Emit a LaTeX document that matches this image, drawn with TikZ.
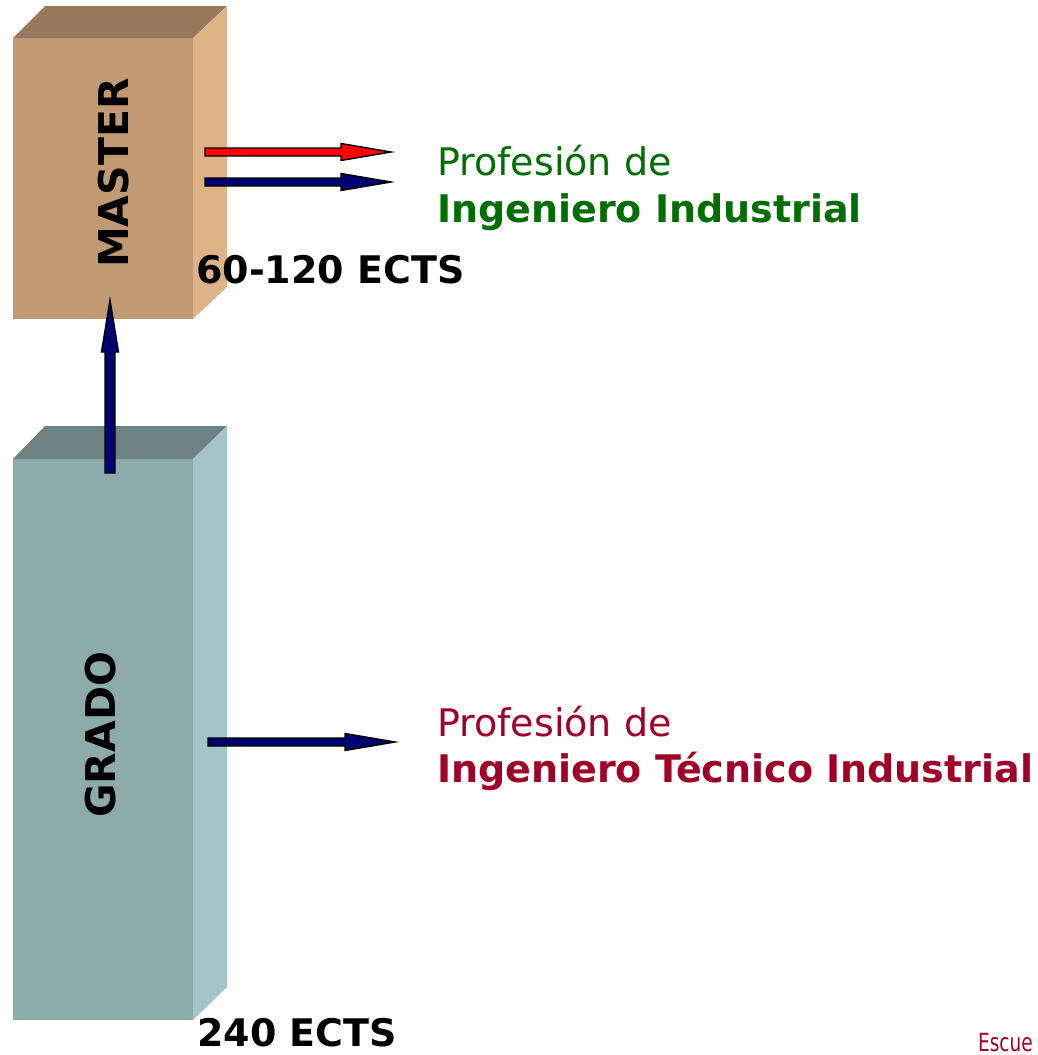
\documentclass[tikz,border=0pt]{standalone}
\usepackage{fontspec}
\setmainfont{DejaVu Sans}
\usetikzlibrary{calc}
\definecolor{mfront}{RGB}{193,154,116}
\definecolor{mtop}{RGB}{151,122,94}
\definecolor{mside}{RGB}{223,179,136}
\definecolor{gfront}{RGB}{142,171,172}
\definecolor{gtop}{RGB}{111,130,131}
\definecolor{gside}{RGB}{164,196,199}
\definecolor{navyarr}{RGB}{0,0,110}
\definecolor{redarr}{RGB}{255,0,0}
\definecolor{txtgreen}{RGB}{0,110,0}
\definecolor{txtred}{RGB}{160,0,40}
\newcommand{\blockarr}[6]{%
  \coordinate (tmpH) at ($(#2)!#6!(#1)$);
  \filldraw[fill=#3,draw=black,line width=1.4pt,line join=miter]
    ($(#1)!#4!90:(#2)$) -- ($(tmpH)!#4!-90:(#1)$) -- ($(tmpH)!#5!-90:(#1)$)
    -- (#2) -- ($(tmpH)!#5!90:(#1)$) -- ($(tmpH)!#4!90:(#1)$)
    -- ($(#1)!#4!-90:(#2)$) -- cycle;}
\tikzset{
  face/.style={inner sep=0pt, outer sep=0pt, draw=none},
  bigf/.style={font=\fontsize{38}{46}\selectfont},
  boldf/.style={font=\fontsize{38}{46}\selectfont\bfseries},
  boxlabel/.style={font=\fontsize{41}{49}\selectfont\bfseries, rotate=90, anchor=base, inner sep=0pt},
  txt/.style={anchor=base west, inner sep=0pt, bigf},
}
\begin{document}
\begin{tikzpicture}[x=1pt,y=-1pt]
\clip (0,0) rectangle (1037,1055);
\useasboundingbox (0,0) rectangle (1037,1055);
% MASTER box
\node[face, fill=mfront, minimum width=180pt, minimum height=281pt] (master) at (103,178.5) {};
\fill[mtop] (master.north west) -- ++(32,-32) -- ++(182,0) -- (master.north east) -- cycle;
\fill[mside] (master.north east) -- ++(34,-32) -- ++(0,281) -- (master.south east) -- cycle;
% GRADO box
\node[face, fill=gfront, minimum width=180pt, minimum height=561pt] (grado) at (103,739.5) {};
\fill[gtop] (grado.north west) -- ++(32,-33) -- ++(182,0) -- (grado.north east) -- cycle;
\fill[gside] (grado.north east) -- ++(34,-33) -- ++(0,561) -- (grado.south east) -- cycle;
% labels
\node[boxlabel] (mlab) at (128,173) {MASTER};
\node[boxlabel] (glab) at (115,735) {GRADO};
\node[txt, boldf] (mects) at (196,283) {60-120 ECTS};
\node[txt, boldf, text depth=0pt] (gects) at (197,1046) {240 ECTS};
\node[txt, text=txtgreen] (p1) at (437,175) {Profesión de};
\node[txt, text=txtgreen, boldf] (ii) at (437,222) {Ingeniero Industrial};
\node[txt, text=txtred] (p2) at (437,736) {Profesión de};
\node[txt, text=txtred, boldf] (iti) at (437,782) {Ingeniero Técnico Industrial};
\node[anchor=base west, inner sep=0pt, text=txtred, xscale=0.74, font=\fontsize{25}{28}\selectfont] (esc) at (978,1051) {Escue};
% arrow ends
\coordinate (mout1) at (205,152);
\coordinate (iin1) at (391,152);
\coordinate (mout2) at (205,182);
\coordinate (iin2) at (391,182);
\coordinate (gout) at (208,742);
\coordinate (tin) at (395,742);
\coordinate (gup) at (110,473);
\coordinate (min) at (110,300);
\blockarr{mout1}{iin1}{redarr}{4pt}{8.5pt}{50pt}
\blockarr{mout2}{iin2}{navyarr}{4pt}{8.5pt}{50pt}
\blockarr{gout}{tin}{navyarr}{4pt}{8.5pt}{50pt}
\blockarr{gup}{min}{navyarr}{5pt}{8.5pt}{52pt}
\end{tikzpicture}
\end{document}
